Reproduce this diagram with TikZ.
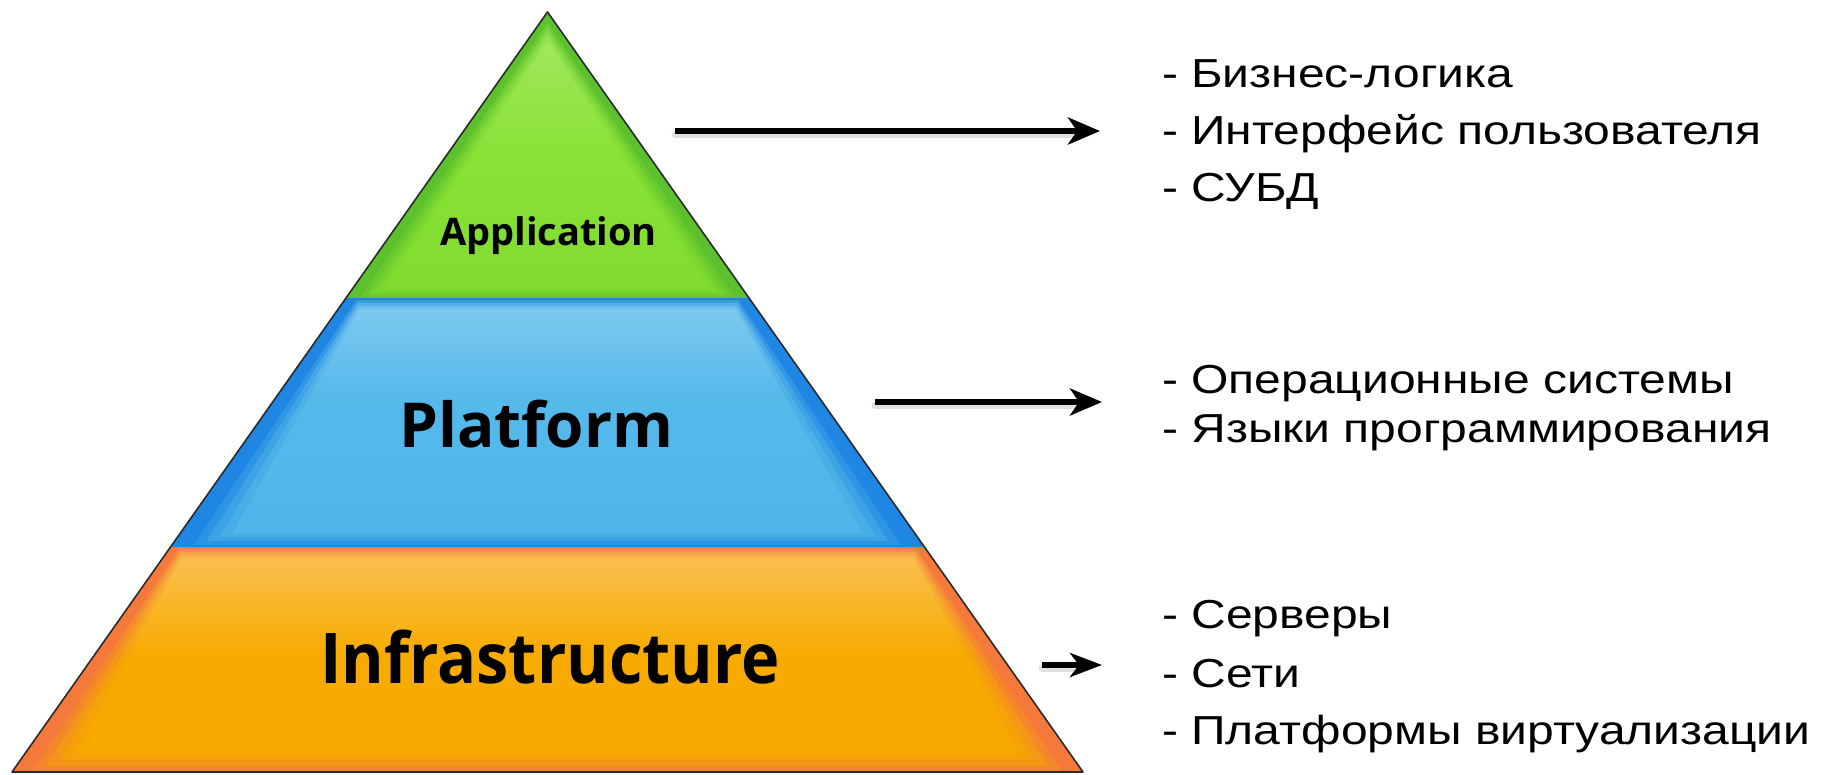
\documentclass[tikz,border=0pt]{standalone}
\usepackage{fontspec}
\setmainfont{Liberation Sans}
\newfontfamily\itemfont{Liberation Sans}[FakeStretch=1.185]
\newfontfamily\labfont{Open Sans}
\usetikzlibrary{arrows.meta}

\definecolor{gborder}{HTML}{5CC12C}
\definecolor{bborder}{HTML}{1F86E3}
\definecolor{oborder}{HTML}{F4793B}
\definecolor{edgecol}{HTML}{2A2A2A}

\pgfdeclareverticalshading{greensh}{100bp}{color(0bp)=({rgb,255:red,124;green,214;blue,44}); color(50bp)=({rgb,255:red,136;green,225;blue,52}); color(100bp)=({rgb,255:red,185;green,239;blue,130})}
\pgfdeclareverticalshading{bluesh}{100bp}{color(0bp)=({rgb,255:red,74;green,179;blue,232}); color(55bp)=({rgb,255:red,85;green,185;blue,234}); color(80bp)=({rgb,255:red,134;green,205;blue,241}); color(100bp)=({rgb,255:red,181;green,225;blue,247})}
\pgfdeclareverticalshading{orangesh}{100bp}{color(0bp)=({rgb,255:red,246;green,166;blue,0}); color(50bp)=({rgb,255:red,247;green,171;blue,0}); color(72bp)=({rgb,255:red,249;green,189;blue,69}); color(100bp)=({rgb,255:red,253;green,214;blue,170})}

% #1 top y, #2 bottom y, #3 inset at top, #4 inset at bottom, #5 path options
\newcommand\pyrlayer[5]{%
  \pgfmathsetmacro\xtl{547.5-0.7046*(#1-12)+#3}%
  \pgfmathsetmacro\xtr{547.5+0.7046*(#1-12)-#3}%
  \pgfmathsetmacro\xbl{547.5-0.7046*(#2-12)+#4}%
  \pgfmathsetmacro\xbr{547.5+0.7046*(#2-12)-#4}%
  \path[#5] (\xtl,#1) -- (\xtr,#1) -- (\xbr,#2) -- (\xbl,#2) -- cycle;%
}

\tikzset{
  item/.style={inner sep=0pt, anchor=base west, font=\itemfont\fontsize{40.5}{48}\selectfont},
  lab/.style={inner sep=0pt, anchor=base},
  arr/.style={line width=5.5pt, -{Stealth[length=32pt,width=27pt,inset=9pt]}},
  arrsmall/.style={line width=5.5pt, -{Stealth[length=32pt,width=24pt,inset=9pt]}},
  arrshadow/.style={line width=7pt, black, opacity=0.12, line cap=round},
}

\begin{document}
\begin{tikzpicture}[x=1pt,y=-1pt]
\useasboundingbox (0,0) rectangle (1821,774);
\fill[white] (0,0) rectangle (1821,774);

% ---- green layer
\pyrlayer{12}{298}{0}{0}{fill=gborder}
\pyrlayer{23.4}{297}{8}{14}{shading=greensh, fill opacity=0.3}
\pyrlayer{29}{295}{12}{20}{shading=greensh, fill opacity=0.45}
\pyrlayer{34.7}{292}{16}{26}{shading=greensh, fill opacity=0.6}
\pyrlayer{40.4}{289}{20}{32}{shading=greensh}

% ---- blue layer
\pyrlayer{298}{547}{0}{0}{fill=bborder}
\pyrlayer{300}{545}{12}{22}{shading=bluesh, fill opacity=0.3}
\pyrlayer{303}{541}{15}{32}{shading=bluesh, fill opacity=0.45}
\pyrlayer{306}{537}{18}{42}{shading=bluesh, fill opacity=0.6}
\pyrlayer{309}{533}{21}{52}{shading=bluesh}

% ---- orange layer
\pyrlayer{547}{772}{0}{0}{fill=oborder}
\pyrlayer{549}{771}{10}{20}{shading=orangesh, fill opacity=0.3}
\pyrlayer{552}{766}{13}{30}{shading=orangesh, fill opacity=0.45}
\pyrlayer{555}{760}{16}{40}{shading=orangesh, fill opacity=0.6}
\pyrlayer{558}{754}{19}{50}{shading=orangesh}

% ---- outline
\draw[edgecol, line width=1.6pt, line join=round] (547.5,12) -- (1083,772) -- (12,772) -- cycle;

% ---- layer labels
\node[lab, font=\labfont\bfseries\fontsize{38}{40}\selectfont] (app) at (548.5,245) {Application};
\node[lab, font=\labfont\bfseries\fontsize{62}{64}\selectfont] (plat) at (536.5,447) {Platform};
\node[lab, font=\labfont\bfseries\fontsize{70}{72}\selectfont] (infra) at (550,683) {\scalebox{0.927}[1]{Infrastructure}};

% ---- arrows
\coordinate (a1s) at (675,131); \coordinate (a1e) at (1100,131);
\coordinate (a2s) at (875,402); \coordinate (a2e) at (1102,402);
\coordinate (a3s) at (1042,665); \coordinate (a3e) at (1102,665);
\draw[arrshadow] ([yshift=-3pt]a1s) -- ([yshift=-3pt,xshift=-30pt]a1e);
\draw[arrshadow] ([yshift=-3pt]a2s) -- ([yshift=-3pt,xshift=-30pt]a2e);
\draw[arrshadow] ([yshift=-3pt]a3s) -- ([yshift=-3pt,xshift=-30pt]a3e);
\draw[arr] (a1s) -- (a1e);
\draw[arr] (a2s) -- (a2e);
\draw[arrsmall] (a3s) -- (a3e);

% ---- right-hand texts
\node[item] (t11) at (1162,87) {- Бизнес-логика};
\node[item] (t12) at (1162,144) {- Интерфейс пользователя};
\node[item] (t13) at (1162,201) {- СУБД};
\node[item] (t21) at (1162,393) {- Операционные системы};
\node[item] (t22) at (1162,442) {- Языки программирования};
\node[item] (t31) at (1162,628) {- Серверы};
\node[item] (t32) at (1162,687) {- Сети};
\node[item] (t33) at (1162,744) {- Платформы виртуализации};
\end{tikzpicture}
\end{document}
